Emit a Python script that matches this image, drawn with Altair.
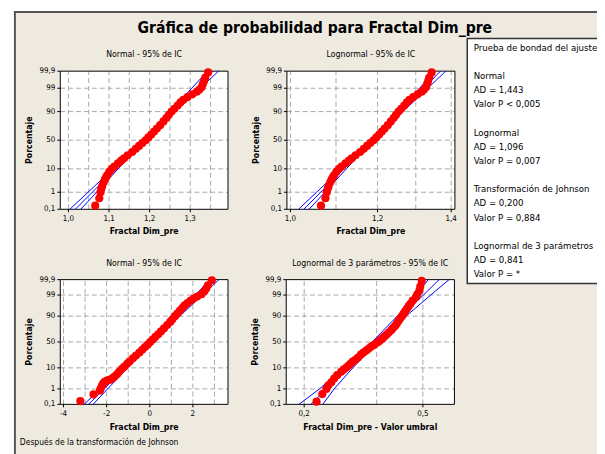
import altair as alt
import pandas as pd
from statistics import NormalDist

# ---------------- data ----------------
TITLE = "Gráfica de probabilidad para Fractal Dim_pre"
FOOTNOTE = "Después de la transformación de Johnson"
PANEL_TITLES = ["Normal - 95% de IC", "Lognormal - 95% de IC",
                "Normal - 95% de IC", "Lognormal de 3 parámetros - 95% de IC"]
X_TITLES = ["Fractal Dim_pre", "Fractal Dim_pre", "Fractal Dim_pre",
            "Fractal Dim_pre - Valor umbral"]
Y_TITLE = "Porcentaje"

LEGEND_TEXT = ["Prueba de bondad del ajuste",
               "Normal", "AD = 1,443", "Valor P < 0,005",
               "Lognormal", "AD = 1,096", "Valor P = 0,007",
               "Transformación de Johnson", "AD = 0,200", "Valor P = 0,884",
               "Lognormal de 3 parámetros", "AD = 0,841", "Valor P = *"]

Y_TICKS_PCT = [0.1, 1, 10, 50, 90, 99, 99.9]
Y_TICK_LABELS = ["0,1", "1", "10", "50", "90", "99", "99,9"]
Y_GRID_PCT = [1, 10, 50, 90, 99]

# plotted percentiles and original data (Fractal Dim_pre)
DATA_PCT = [0.17, 0.47, 1.0, 1.5, 2.0, 3.0, 4.0, 5.0, 6.0, 8.0, 10, 12, 15, 18, 21,
            25, 30, 35, 40, 45, 50, 55, 60, 65, 70, 75, 80, 84, 87, 90, 92, 94,
            95.5, 96.5, 97.3, 98.0, 98.5, 98.8, 99.1, 99.4, 99.6, 99.75, 99.88]
DATA_VAL = [1.066, 1.076, 1.079, 1.081, 1.083, 1.087, 1.090, 1.093, 1.096, 1.101,
            1.107, 1.113, 1.122, 1.130, 1.137, 1.146, 1.157, 1.166, 1.174, 1.182,
            1.190, 1.197, 1.204, 1.211, 1.218, 1.226, 1.234, 1.241, 1.247, 1.254,
            1.261, 1.269, 1.276, 1.283, 1.293, 1.305, 1.316, 1.322, 1.328, 1.331,
            1.334, 1.337, 1.344]

# after Johnson transformation
JOHNSON_PCT = [0.17, 0.47, 0.8, 1.1, 1.5, 2.0, 2.5, 2.8, 3.0, 3.3, 3.8, 4.5, 5.5, 7,
               9, 11, 14, 17, 21, 25, 30, 35, 40, 45, 50, 55, 60, 65, 70, 75, 80,
               84, 87, 90, 92, 94, 95.5, 96.5, 97.3, 98, 98.5, 98.8, 99.1, 99.4,
               99.6, 99.75, 99.89]
JOHNSON_VAL = [-3.22, -2.61, -2.31, -2.27, -2.22, -2.16, -2.08, -1.98, -1.88, -1.78,
               -1.70, -1.62, -1.52, -1.42, -1.30, -1.19, -1.05, -0.93, -0.78, -0.64,
               -0.48, -0.35, -0.22, -0.09, 0.02, 0.14, 0.26, 0.39, 0.52, 0.66, 0.81,
               0.95, 1.05, 1.17, 1.28, 1.40, 1.52, 1.62, 1.75, 1.90, 2.05, 2.20,
               2.40, 2.53, 2.62, 2.70, 2.88]

# Fractal Dim_pre - threshold (3-parameter lognormal panel)
SHIFT_PCT = [0.155, 0.49, 1.0, 1.6, 2.3, 3.5, 5.0, 7.0, 8.5, 10, 12, 14, 16.5, 19,
             22, 26.6, 30, 33, 36.5, 40, 43, 46, 50, 53, 56, 59, 62, 65, 68.5,
             72.5, 76, 79, 82, 85, 87.5, 90, 92, 93.5, 95, 96.2, 97.1, 98.0, 98.7,
             99.1, 99.46, 99.7, 99.88]
SHIFT_VAL = [0.220, 0.230, 0.2373, 0.241, 0.2466, 0.252, 0.258, 0.266, 0.271,
             0.2764, 0.281, 0.286, 0.291, 0.297, 0.303, 0.310, 0.316, 0.322,
             0.328, 0.334, 0.340, 0.346, 0.3544, 0.359, 0.364, 0.369, 0.374,
             0.379, 0.385, 0.3924, 0.398, 0.404, 0.409, 0.414, 0.419, 0.4255,
             0.431, 0.436, 0.442, 0.448, 0.4546, 0.462, 0.474, 0.479, 0.4868,
             0.490, 0.4955]

# fitted lines and 95% CI bands at these percentiles
FIT_PCT = [0.1, 1, 10, 50, 90, 99, 99.9]
FIT_NORMAL = {
    "lower":  [1.0035, 1.0483, 1.1098, 1.1831, 1.2506, 1.3037, 1.3427],
    "center": [1.0169, 1.0588, 1.1161, 1.1865, 1.2569, 1.3142, 1.3561],
    "upper":  [1.0303, 1.0693, 1.1224, 1.1899, 1.2632, 1.3247, 1.3695]}
FIT_LOGNORMAL = {
    "lower":  [1.0170, 1.0561, 1.1124, 1.1833, 1.2525, 1.3100, 1.3541],
    "center": [1.0283, 1.0653, 1.1182, 1.1865, 1.2590, 1.3214, 1.3690],
    "upper":  [1.0397, 1.0747, 1.1240, 1.1897, 1.2656, 1.3329, 1.3842]}
FIT_JOHNSON = {
    "lower":  [-3.05, -2.281, -1.234, 0.02, 1.188, 2.115, 2.79],
    "center": [-2.84, -2.118, -1.131, 0.08, 1.291, 2.278, 3.00],
    "upper":  [-2.63, -1.955, -1.028, 0.14, 1.394, 2.441, 3.21]}
FIT_LOGNORMAL3 = {
    "lower":  [0.1922, 0.2249, 0.2719, 0.3378, 0.4102, 0.4740, 0.5213],
    "center": [0.2106, 0.2381, 0.2813, 0.3456, 0.4245, 0.5018, 0.5669],
    "upper":  [0.2308, 0.2521, 0.2911, 0.3535, 0.4392, 0.5313, 0.6118]}

X_DOMAINS = [[0.980, 1.393], [0.9926, 1.411], [-4.15, 3.63], [0.1741, 0.638]]
X_GRIDS = [[1.0, 1.05, 1.1, 1.15, 1.2, 1.25, 1.3, 1.35],
           [1.0, 1.1, 1.2, 1.3, 1.4],
           [-4, -3, -2, -1, 0, 1, 2, 3],
           [0.2, 0.35, 0.5]]
X_TICKS = [[1.0, 1.1, 1.2, 1.3], [1.0, 1.2, 1.4], [-4, -2, 0, 2], [0.2, 0.5]]
X_TICK_LABELS = [["1,0", "1,1", "1,2", "1,3"], ["1,0", "1,2", "1,4"],
                 ["-4", "-2", "0", "2"], ["0,2", "0,5"]]

# ---------------- layout / style ----------------
W, H = 597, 446
FONT = "DejaVu Sans Condensed, Liberation Sans, sans-serif"
BEIGE = "#EEEAE0"
RED = "#FF0000"
BLUE = "#0000FF"
GRID = "#A8A8A8"

X_RANGES = [[53, 223], [282.7, 453], [53, 223], [282, 452.5]]
Y_RANGES = [[201, 61], [201, 61], [398.7, 272.3], [398.7, 272.3]]
X_TYPES = ["linear", "log", "linear", "log"]
LEGEND_Y = [40.5, 69, 83, 97, 127, 141, 155.3, 183.5, 198, 212.5, 241.5, 255.3, 269.3]

nd = NormalDist()


def zq(p):
    return nd.inv_cdf(p / 100.0)


ZLO, ZHI = zq(0.1), zq(99.9)

one = pd.DataFrame({"k": [0]})


def txt(text, x, y, size, weight="normal", align="center", angle=0, baseline="alphabetic"):
    return alt.Chart(one).mark_text(font=FONT, fontSize=size, fontWeight=weight, color="black",
                                    align=align, baseline=baseline, angle=angle).encode(
        text=alt.value(text), x=alt.value(x), y=alt.value(y))


def panel(i, xs_data, pct_data, fit):
    xd = X_DOMAINS[i]
    xr = X_RANGES[i]
    yr = Y_RANGES[i]
    if X_TYPES[i] == "log":
        xs = alt.Scale(type="log", domain=xd, range=xr, nice=False)
    else:
        xs = alt.Scale(type="linear", domain=xd, range=xr, nice=False, zero=False)
    ys = alt.Scale(type="linear", domain=[ZLO, ZHI], range=yr, nice=False, zero=False)

    X = alt.X("x:Q", scale=xs, axis=None)
    Y = alt.Y("z:Q", scale=ys, axis=None)

    box = pd.DataFrame({"x": [xd[0]], "x2": [xd[1]], "z": [ZLO], "z2": [ZHI]})
    bg = alt.Chart(box).mark_rect(fill="white", strokeWidth=0).encode(
        x=X, x2="x2:Q", y=Y, y2="z2:Q")
    border = alt.Chart(box).mark_rect(fillOpacity=0, stroke="black", strokeWidth=1).encode(
        x=X, x2="x2:Q", y=Y, y2="z2:Q")

    vg = alt.Chart(pd.DataFrame({"x": X_GRIDS[i], "z": ZLO, "z2": ZHI})).mark_rule(
        color=GRID, strokeDash=[5, 3], strokeWidth=1).encode(x=X, y=Y, y2="z2:Q")
    hg = alt.Chart(pd.DataFrame({"z": [zq(p) for p in Y_GRID_PCT], "x": xd[0], "x2": xd[1]})).mark_rule(
        color=GRID, strokeDash=[5, 3], strokeWidth=1).encode(x=X, x2="x2:Q", y=Y)

    # y axis: ticks + labels through the y scale
    ytk = pd.DataFrame({"z": [zq(p) for p in Y_TICKS_PCT], "lab": Y_TICK_LABELS})
    yticks = alt.Chart(ytk).mark_rule(color="black", strokeWidth=1).encode(
        y=Y, x=alt.value(xr[0] - 3), x2=alt.value(xr[0]))
    ylabels = alt.Chart(ytk).mark_text(font=FONT, fontSize=8, color="black", align="right",
                                       baseline="middle").encode(
        y=Y, x=alt.value(xr[0] - 5), text="lab:N")
    # x axis: ticks + labels through the x scale
    xtk = pd.DataFrame({"x": X_TICKS[i], "lab": X_TICK_LABELS[i]})
    xticks = alt.Chart(xtk).mark_rule(color="black", strokeWidth=1).encode(
        x=X, y=alt.value(yr[0]), y2=alt.value(yr[0] + 3))
    xlabels = alt.Chart(xtk).mark_text(font=FONT, fontSize=8, color="black", align="center",
                                       baseline="top").encode(
        x=X, y=alt.value(yr[0] + 6), text="lab:N")

    rows = []
    for kind, vals in fit.items():
        for p, v in zip(FIT_PCT, vals):
            rows.append({"kind": kind, "x": v, "z": zq(p)})
    lines = alt.Chart(pd.DataFrame(rows)).mark_line(color=BLUE, strokeWidth=1).encode(
        x=X, y=Y, detail="kind:N", order="z:Q")

    pts = alt.Chart(pd.DataFrame({"x": xs_data, "z": [zq(p) for p in pct_data]})).mark_circle(
        color=RED, size=68, opacity=1).encode(x=X, y=Y)

    cx = (xr[0] + xr[1]) / 2
    cy = (yr[0] + yr[1]) / 2
    sub = txt(PANEL_TITLES[i], cx, 47 if i < 2 else 258, 8.8)
    xt = txt(X_TITLES[i], cx, yr[0] + 25.5, 8.8, weight="bold")
    yt = txt(Y_TITLE, xr[0] - 28.5, cy, 8.8, weight="bold", angle=270)

    return alt.layer(bg, vg, hg, border, yticks, ylabels, xticks, xlabels,
                     lines, pts, sub, xt, yt)


panels = [
    panel(0, DATA_VAL, DATA_PCT, FIT_NORMAL),
    panel(1, DATA_VAL, DATA_PCT, FIT_LOGNORMAL),
    panel(2, JOHNSON_VAL, JOHNSON_PCT, FIT_JOHNSON),
    panel(3, SHIFT_VAL, SHIFT_PCT, FIT_LOGNORMAL3),
]

frame = alt.Chart(one).mark_rect(fill=BEIGE, stroke="#555555", strokeWidth=2).encode(
    x=alt.value(7), x2=alt.value(640), y=alt.value(1), y2=alt.value(480))

title = txt(TITLE, 311, 22.5, 15.8, weight="bold")
foot = txt(FOOTNOTE, 12, 440, 8.6, align="left")

legbox = alt.Chart(one).mark_rect(fill="white", stroke="#333333", strokeWidth=1.5).encode(
    x=alt.value(465.5), x2=alt.value(640), y=alt.value(28), y2=alt.value(276.3))

leg = alt.Chart(pd.DataFrame({"t": LEGEND_TEXT, "ypos": LEGEND_Y})).mark_text(
    font=FONT, fontSize=9.7, color="black", align="left", baseline="alphabetic").encode(
    text="t:N", x=alt.value(472), y=alt.Y("ypos:Q", scale=None, axis=None))

chart = alt.layer(frame, title, *panels, legbox, leg, foot).resolve_scale(
    x="independent", y="independent"
).properties(
    width=W, height=H, padding=0,
    autosize=alt.AutoSizeParams(type="none"),
    background="white",
).configure_view(strokeWidth=0)

chart.save("out.html", embed_options={"renderer": "svg", "actions": False})
